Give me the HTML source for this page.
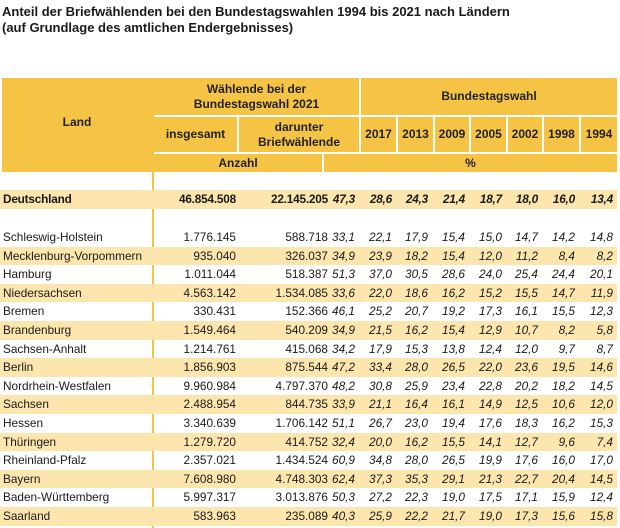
<!DOCTYPE html>
<html><head><meta charset="utf-8"><style>
body{margin:0;width:620px;height:528px;background:#fff;font-family:"Liberation Sans",sans-serif;color:#1a1a1a;position:relative;overflow:hidden}
.t{position:absolute;left:2px;font-weight:bold;font-size:13px;line-height:16px}
.h{position:absolute;background:#f5c445;font-weight:bold;font-size:12px;display:flex;align-items:center;justify-content:center;text-align:center;line-height:15px;color:#222}
.r{position:absolute;left:0;width:617px;height:18.6px;font-size:11.8px}
.r.b{background:#fce6ae}
.r span{position:absolute;top:2px;text-align:right;white-space:nowrap}
.r span.l{left:3px;text-align:left}
.i{font-style:italic}
</style></head><body>
<div class="t" style="top:4px">Anteil der Briefwählenden bei den Bundestagswahlen 1994 bis 2021 nach Ländern</div>
<div class="t" style="top:20px">(auf Grundlage des amtlichen Endergebnisses)</div>

<div class="h" style="left:2px;top:78px;width:150px;height:94px"><span style="margin-top:-6px">Land</span></div>
<div class="h" style="left:154px;top:78px;width:205px;height:37px">Wählende bei der<br>Bundestagswahl 2021</div>
<div class="h" style="left:361px;top:78px;width:256px;height:37px">Bundestagswahl</div>
<div class="h" style="left:154px;top:117px;width:83px;height:35px">insgesamt</div>
<div class="h" style="left:239px;top:117px;width:120px;height:35px">darunter<br>Briefwählende</div>
<div class="h" style="left:361px;top:117px;width:35px;height:35px">2017</div>
<div class="h" style="left:398px;top:117px;width:35px;height:35px">2013</div>
<div class="h" style="left:435px;top:117px;width:34px;height:35px">2009</div>
<div class="h" style="left:471px;top:117px;width:35px;height:35px">2005</div>
<div class="h" style="left:508px;top:117px;width:34px;height:35px">2002</div>
<div class="h" style="left:544px;top:117px;width:35px;height:35px">1998</div>
<div class="h" style="left:581px;top:117px;width:36px;height:35px">1994</div>
<div class="h" style="left:154px;top:154px;width:168px;height:18px">Anzahl</div>
<div class="h" style="left:324px;top:154px;width:293px;height:18px">%</div>

<div style="position:absolute;left:152px;top:78px;width:2px;height:450px;background:#f5c445"></div>

<div id="rows"></div>
<script>
var R=[
["Deutschland","46.854.508","22.145.205","47,3","28,6","24,3","21,4","18,7","18,0","16,0","13,4"],
["Schleswig-Holstein","1.776.145","588.718","33,1","22,1","17,9","15,4","15,0","14,7","14,2","14,8"],
["Mecklenburg-Vorpommern","935.040","326.037","34,9","23,9","18,2","15,4","12,0","11,2","8,4","8,2"],
["Hamburg","1.011.044","518.387","51,3","37,0","30,5","28,6","24,0","25,4","24,4","20,1"],
["Niedersachsen","4.563.142","1.534.085","33,6","22,0","18,6","16,2","15,2","15,5","14,7","11,9"],
["Bremen","330.431","152.366","46,1","25,2","20,7","19,2","17,3","16,1","15,5","12,3"],
["Brandenburg","1.549.464","540.209","34,9","21,5","16,2","15,4","12,9","10,7","8,2","5,8"],
["Sachsen-Anhalt","1.214.761","415.068","34,2","17,9","15,3","13,8","12,4","12,0","9,7","8,7"],
["Berlin","1.856.903","875.544","47,2","33,4","28,0","26,5","22,0","23,6","19,5","14,6"],
["Nordrhein-Westfalen","9.960.984","4.797.370","48,2","30,8","25,9","23,4","22,8","20,2","18,2","14,5"],
["Sachsen","2.488.954","844.735","33,9","21,1","16,4","16,1","14,9","12,5","10,6","12,0"],
["Hessen","3.340.639","1.706.142","51,1","26,7","23,0","19,4","17,6","18,3","16,2","15,3"],
["Thüringen","1.279.720","414.752","32,4","20,0","16,2","15,5","14,1","12,7","9,6","7,4"],
["Rheinland-Pfalz","2.357.021","1.434.524","60,9","34,8","28,0","26,5","19,9","17,6","16,0","17,0"],
["Bayern","7.608.980","4.748.303","62,4","37,3","35,3","29,1","21,3","22,7","20,4","14,5"],
["Baden-Württemberg","5.997.317","3.013.876","50,3","27,2","22,3","19,0","17,5","17,1","15,9","12,4"],
["Saarland","583.963","235.089","40,3","25,9","22,2","21,7","19,0","17,3","15,6","15,8"]];
var E=[236,328,355,392,428,465,502,538,575,613];
var h="";
R.forEach(function(r,k){
 var top=k==0?190:228+(k-1)*18.6, b=(k==0||k%2==0);
 h+='<div class="r'+(b?' b':'')+'" style="top:'+top+'px;'+(k==0?'font-weight:bold;height:19px;letter-spacing:-0.2px':'')+'">';
 h+='<span class="l">'+r[0]+'</span>';
 for(var j=1;j<r.length;j++){h+='<span class="'+(j>=3?'i':'')+'" style="right:'+(617-E[j-1])+'px">'+r[j]+'</span>';}
 h+='</div>';
});
document.getElementById("rows").innerHTML=h;
</script>
</body></html>
